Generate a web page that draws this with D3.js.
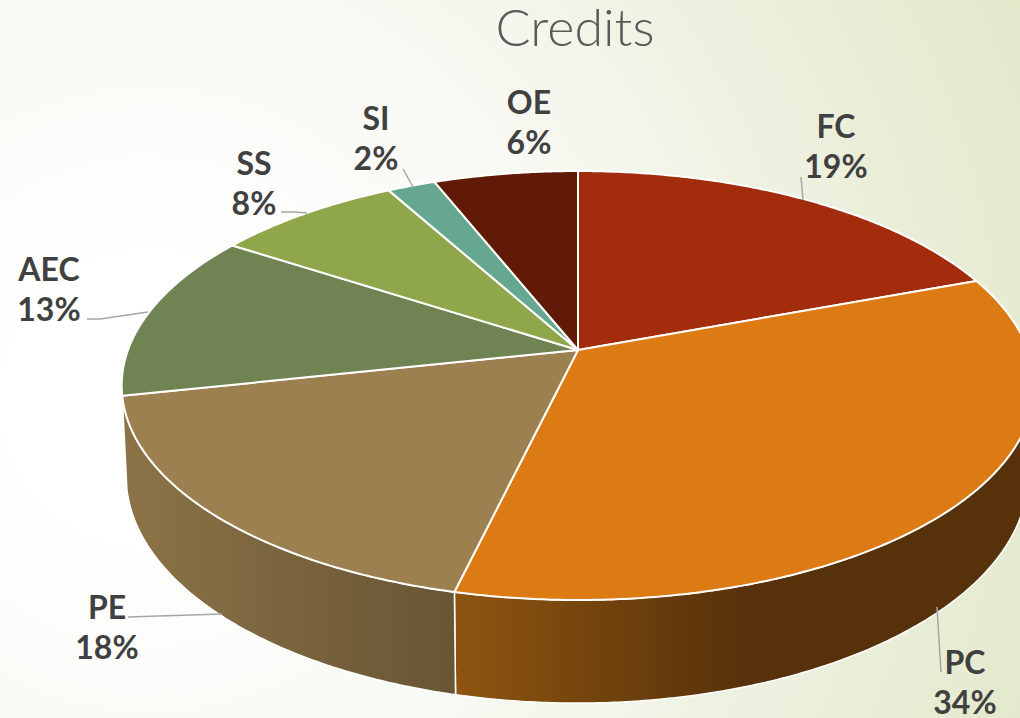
<!DOCTYPE html>
<html><head><meta charset="utf-8">
<style>html,body{margin:0;padding:0;background:#fff}svg{display:block}</style>
<script src="https://cdn.jsdelivr.net/npm/d3@7/dist/d3.min.js"></script>
</head><body><svg id="c" width="1020" height="718"></svg>
<script>
const categories = ["FC","PC","PE","AEC","SS","SI","OE"];
const shares = [19.3,34.4,17.9,12.6,7.8,2.0,6.0];
const topColors = ["#A32C0C","#DC7A14","#9C8050","#6F8353","#8FA64B","#66A88F","#601A06"];
const wallFrom = ["#7a2109","#8F5510","#8C7347","#55653f","#6c7d39","#4d7f6c","#481405"];
const wallTo = ["#7a2109","#56310A","#695635","#55653f","#6c7d39","#4d7f6c","#481405"];
const wallSpan = [[0,1],[450,750],[125,445],[0,1],[0,1],[0,1],[0,1]];
const labelPos = [[836,126],[965,662],[107,607],[49,269],[254,163],[376,118],[529,102]];
const leaders = [
  [[801,177],[803,200]],
  [[937,607],[941,672]],
  [[128,617],[222,614]],
  [[87,319],[100,319],[148,312]],
  [[281,212],[295,212],[307,213]],
  [[403,169],[413,187]],
  []
];
const topDisc = {cx:578, cy:350, a:450, b:208.6, k:0.1656};
const baseDisc = {cx:577, cy:440, a:445, b:221, k:0.16};

const svg = d3.select("#c");
const defs = svg.append("defs");
const bg = defs.append("radialGradient").attr("id","bg").attr("gradientUnits","userSpaceOnUse")
  .attr("cx",150).attr("cy",400).attr("r",950);
[[0.12,"#ffffff"],[0.45,"#f8f9f3"],[1,"#e2e8ca"]].forEach(s=>bg.append("stop").attr("offset",s[0]).attr("stop-color",s[1]));
svg.append("rect").attr("width",1020).attr("height",718).attr("fill","url(#bg)");

const color = d3.scaleOrdinal(categories, topColors);
const arcs = d3.pie().sort(null).value(d=>d.v)(categories.map((c,i)=>({c,v:shares[i],i})));

function proj(t,p){
  const u=Math.sin(t), v=-Math.cos(t), w=1-p.k*v;
  return [p.cx+p.a*u/w, p.cy+p.b*v/w];
}
function rim(a0,a1,p){
  const n=Math.max(2,Math.ceil((a1-a0)/0.008));
  return d3.range(n+1).map(i=>proj(a0+(a1-a0)*i/n,p));
}
const line=d3.line();

arcs.filter(d=>d.endAngle>Math.PI/2 && d.startAngle<Math.PI*1.4).forEach(d=>{
  const i=d.data.i, id="w"+i;
  const g=defs.append("linearGradient").attr("id",id).attr("gradientUnits","userSpaceOnUse")
    .attr("x1",wallSpan[i][0]).attr("x2",wallSpan[i][1]).attr("y1",0).attr("y2",0);
  g.append("stop").attr("offset",0).attr("stop-color",wallFrom[i]);
  g.append("stop").attr("offset",1).attr("stop-color",wallTo[i]);
  const pts=rim(d.startAngle,d.endAngle,topDisc).concat(rim(d.startAngle,d.endAngle,baseDisc).reverse());
  svg.append("path").attr("d",line(pts)+"Z").attr("fill","url(#"+id+")")
    .attr("stroke","#fff").attr("stroke-width",1.5).attr("stroke-linejoin","round");
});

svg.selectAll("path.top").data(arcs).join("path").attr("class","top")
  .attr("d",d=>line([[topDisc.cx,topDisc.cy]].concat(rim(d.startAngle,d.endAngle,topDisc)))+"Z")
  .attr("fill",d=>color(d.data.c)).attr("stroke","#fff").attr("stroke-width",2).attr("stroke-linejoin","round");

leaders.forEach(l=>{ if(l.length) svg.append("path").attr("d",line(l)).attr("fill","none").attr("stroke","#a6a6a6").attr("stroke-width",1.5); });

svg.append("text").attr("x",575).attr("y",46).attr("text-anchor","middle")
  .attr("font-family","Lato").attr("font-weight",300).attr("font-size",52).attr("fill","#595959").text("Credits");

const pct=d3.format(".0f");
arcs.forEach(d=>{
  const i=d.data.i, pos=labelPos[i];
  [d.data.c, pct(d.data.v)+"%"].forEach((t,j)=>{
    svg.append("text").attr("x",pos[0]).attr("y",pos[1]+j*40).attr("dy",11.5).attr("text-anchor","middle")
      .attr("font-family","Lato").attr("font-weight",700).attr("font-size",32).attr("fill","#404040").text(t);
  });
});
</script></body></html>
